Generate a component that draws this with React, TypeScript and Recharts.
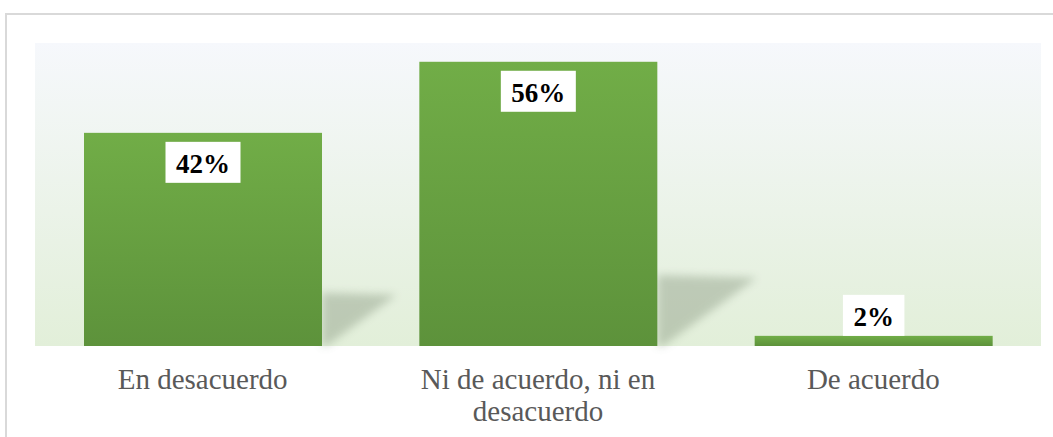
import { BarChart, Bar, XAxis, YAxis, LabelList, CartesianGrid } from "recharts";

const categories = ["En desacuerdo", "Ni de acuerdo, ni en desacuerdo", "De acuerdo"];
const percentages = [42, 56, 2];

const data = categories.map((name, i) => ({ name, value: percentages[i] }));

const SERIF = "'Liberation Serif'";

// rough split of long category names into lines that fit the band
const wrap = (text: string, maxChars: number) => {
  const words = text.split(" ");
  const lines: string[] = [];
  let cur = "";
  words.forEach((w) => {
    const next = cur ? cur + " " + w : w;
    if (next.length > maxChars && cur) {
      lines.push(cur);
      cur = w;
    } else {
      cur = next;
    }
  });
  if (cur) lines.push(cur);
  return lines;
};

const CategoryTick = (props: any) => {
  const { x, y, payload } = props;
  const lines = wrap(payload.value, 21);
  return (
    <text
      x={x}
      y={y}
      textAnchor="middle"
      fill="#595959"
      style={{ fontFamily: SERIF, fontSize: 29 }}
    >
      {lines.map((l, i) => (
        <tspan key={i} x={x} dy={i === 0 ? 43 : 32}>
          {l}
        </tspan>
      ))}
    </text>
  );
};

const ShadowBar = (props: any) => {
  const { x, y, width, height } = props;
  const bottom = y + height;
  const right = x + width;
  const pts = [
    [right, bottom - 0.25 * height],
    [right + 0.35 * height, bottom - 0.24 * height],
    [right + 0.02 * height, bottom],
    [right, bottom],
  ]
    .map((p) => p.join(","))
    .join(" ");
  return (
    <g>
      {height > 20 && (
        <polygon points={pts} fill="#8d9c85" opacity={0.45} filter="url(#blurShadow)" />
      )}
      <rect x={x} y={y} width={width} height={height} fill="url(#barFill)" />
    </g>
  );
};

const ValueLabel = (props: any) => {
  const { x, y, width, height, value } = props;
  const text = `${value}%`;
  const fs = 27;
  const digits = String(value).length;
  const boxW = (digits * 0.5 + 1) * fs + 21;
  const boxH = 41;
  const cx = x + width / 2;
  const top = height > boxH + 15 ? y + 9 : y - boxH;
  return (
    <g>
      <rect x={cx - boxW / 2} y={top} width={boxW} height={boxH} fill="#ffffff" />
      <text
        x={cx}
        y={top + boxH / 2 + 2}
        textAnchor="middle"
        dominantBaseline="central"
        fill="#000000"
        style={{ fontFamily: SERIF, fontWeight: "bold", fontSize: fs }}
      >
        {text}
      </text>
    </g>
  );
};

export default function App() {
  return (
    <div
      style={{
        position: "absolute",
        left: 0,
        top: 0,
        width: 1053,
        height: 437,
        overflow: "hidden",
        background: "#ffffff",
      }}
    >
      <div
        style={{
          position: "absolute",
          left: 5,
          top: 13,
          width: 1046,
          height: 460,
          border: "2px solid #d9d9d9",
        }}
      />
      <div style={{ position: "absolute", left: 0, top: 0 }}>
        <BarChart
          width={1053}
          height={437}
          data={data}
          margin={{ top: 43, right: 12, bottom: 31, left: 35 }}
        >
          <defs>
            <linearGradient id="bgFill" x1="0" y1="0" x2="0" y2="1">
              <stop offset="0%" stopColor="#f6f8fc" />
              <stop offset="100%" stopColor="#e2efd9" />
            </linearGradient>
            <linearGradient id="barFill" x1="0" y1="0" x2="0" y2="1">
              <stop offset="0%" stopColor="#71ad47" />
              <stop offset="100%" stopColor="#5d923b" />
            </linearGradient>
            <filter id="blurShadow" x="-50%" y="-50%" width="200%" height="200%">
              <feGaussianBlur stdDeviation="4.5" />
            </filter>
          </defs>
          <CartesianGrid horizontal={false} vertical={false} fill="url(#bgFill)" fillOpacity={1} />
          <XAxis
            dataKey="name"
            axisLine={false}
            tickLine={false}
            tickSize={0}
            tickMargin={0}
            height={60}
            interval={0}
            tick={<CategoryTick />}
          />
          <YAxis hide domain={[0, 59.7]} />
          <Bar
            dataKey="value"
            barSize={238}
            shape={<ShadowBar />}
            isAnimationActive={false}
          >
            <LabelList dataKey="value" content={<ValueLabel />} />
          </Bar>
        </BarChart>
      </div>
    </div>
  );
}
